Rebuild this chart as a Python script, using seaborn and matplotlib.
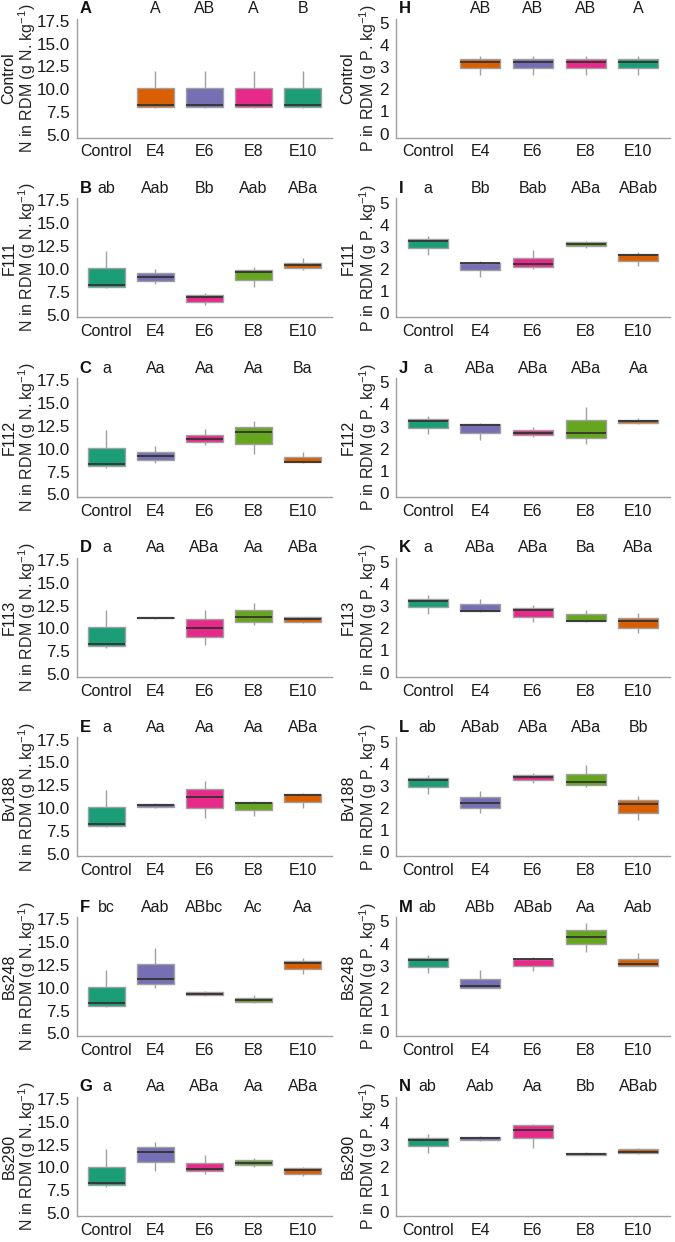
import numpy as np
import pandas as pd
import matplotlib
matplotlib.use("Agg")
import matplotlib.pyplot as plt
import seaborn as sns

# groups on the x axis and strains on the rows
groups = ["Control", "E4", "E6", "E8", "E10"]
rows = ["Control", "F111", "F112", "F113", "Bv188", "Bs248", "Bs290"]

# each box as [min, q1, median, q3, max]
ctrl_n = [7.9, 8.05, 8.3, 10.1, 12.0]
ctrl_p = [2.65, 2.95, 3.25, 3.35, 3.5]

n_A = [None, ctrl_n, ctrl_n, ctrl_n, ctrl_n]
n_B = [ctrl_n, [8.35, 8.7, 9.1, 9.6, 10.0], [6.05, 6.4, 6.9, 7.1, 7.4],
       [8.0, 8.8, 9.7, 9.9, 10.2], [9.85, 10.1, 10.4, 10.7, 11.15]]
n_C = [ctrl_n, [8.4, 8.8, 9.2, 9.65, 10.25], [10.45, 10.75, 11.1, 11.55, 12.15],
       [9.4, 10.55, 11.85, 12.4, 13.05], [8.45, 8.5, 8.55, 9.05, 9.6]]
n_D = [ctrl_n, [11.05, 11.1, 11.15, 11.2, 11.25], [8.2, 9.05, 10.05, 11.0, 12.0],
       [10.35, 10.75, 11.3, 12.0, 12.75], [10.55, 10.75, 11.0, 11.2, 11.3]]
n_E = [ctrl_n, [10.0, 10.1, 10.35, 10.45, 10.55], [8.95, 10.05, 11.2, 12.05, 12.95],
       [9.15, 9.8, 10.6, 10.65, 10.8], [10.0, 10.65, 11.45, 11.5, 11.65]]
n_F = [ctrl_n, [10.0, 10.45, 11.0, 12.65, 14.35], [9.05, 9.25, 9.35, 9.55, 9.7],
       [8.3, 8.45, 8.7, 8.9, 9.2], [11.55, 12.1, 12.7, 12.9, 13.3]]
n_G = [ctrl_n, [9.6, 10.6, 11.7, 12.2, 12.8], [9.3, 9.6, 9.8, 10.5, 11.4],
       [10.0, 10.3, 10.5, 10.8, 11.0], [9.1, 9.3, 9.7, 9.9, 10.0]]

p_H = [None, ctrl_p, ctrl_p, ctrl_p, ctrl_p]
p_I = [ctrl_p, [1.64, 1.94, 2.27, 2.29, 2.35], [2.02, 2.1, 2.22, 2.5, 2.86],
       [2.97, 3.04, 3.13, 3.2, 3.27], [2.14, 2.37, 2.63, 2.68, 2.75]]
p_J = [ctrl_p, [2.37, 2.72, 3.09, 3.1, 3.17], [2.52, 2.6, 2.72, 2.83, 2.98],
       [2.22, 2.48, 2.72, 3.29, 3.9], [3.1, 3.17, 3.24, 3.29, 3.39]]
p_K = [ctrl_p, [2.75, 2.78, 2.79, 3.09, 3.32], [2.29, 2.52, 2.83, 2.9, 3.06],
       [2.29, 2.32, 2.34, 2.63, 2.83], [1.8, 2.03, 2.32, 2.48, 2.68]]
p_L = [ctrl_p, [1.76, 1.99, 2.25, 2.49, 2.78], [3.13, 3.26, 3.41, 3.49, 3.59],
       [2.94, 3.03, 3.18, 3.52, 3.93], [1.45, 1.8, 2.19, 2.37, 2.55]]
p_M = [ctrl_p, [1.98, 2.01, 2.06, 2.41, 2.79], [2.74, 3.0, 3.3, 3.31, 3.4],
       [3.61, 3.96, 4.3, 4.6, 4.95], [2.97, 3.0, 3.08, 3.28, 3.58]]
p_N = [ctrl_p, [3.2, 3.25, 3.33, 3.38, 3.43], [2.9, 3.35, 3.7, 3.9, 3.95],
       [2.55, 2.57, 2.6, 2.64, 2.68], [2.6, 2.65, 2.72, 2.83, 2.87]]

# significance letters
lab_A = ["", "A", "AB", "A", "B"]
lab_B = ["ab", "Aab", "Bb", "Aab", "ABa"]
lab_C = ["a", "Aa", "Aa", "Aa", "Ba"]
lab_D = ["a", "Aa", "ABa", "Aa", "ABa"]
lab_E = ["a", "Aa", "Aa", "Aa", "ABa"]
lab_F = ["bc", "Aab", "ABbc", "Ac", "Aa"]
lab_G = ["a", "Aa", "ABa", "Aa", "ABa"]
lab_H = ["", "AB", "AB", "AB", "A"]
lab_I = ["a", "Bb", "Bab", "ABa", "ABab"]
lab_J = ["a", "ABa", "ABa", "ABa", "Aa"]
lab_K = ["a", "ABa", "ABa", "Ba", "ABa"]
lab_L = ["ab", "ABab", "ABa", "ABa", "Bb"]
lab_M = ["ab", "ABb", "ABab", "Aa", "Aab"]
lab_N = ["ab", "Aab", "Aa", "Bb", "ABab"]

n_panels = [n_A, n_B, n_C, n_D, n_E, n_F, n_G]
p_panels = [p_H, p_I, p_J, p_K, p_L, p_M, p_N]
n_labels = [lab_A, lab_B, lab_C, lab_D, lab_E, lab_F, lab_G]
p_labels = [lab_H, lab_I, lab_J, lab_K, lab_L, lab_M, lab_N]
n_tags = list("ABCDEFG")
p_tags = list("HIJKLMN")

teal, orange, purple, pink, lime = "#1B9E77", "#D95F02", "#7570B3", "#E7298A", "#66A61E"
pal_first = {"Control": teal, "E4": orange, "E6": purple, "E8": pink, "E10": teal}
pal_rest = {"Control": teal, "E4": purple, "E6": pink, "E8": lime, "E10": orange}

sns.set_style("white")
plt.rcParams["font.family"] = ["Liberation Sans", "DejaVu Sans"]
plt.rcParams["mathtext.fontset"] = "custom"
plt.rcParams["mathtext.rm"] = "Liberation Sans"
plt.rcParams["mathtext.default"] = "regular"

fig = plt.figure(figsize=(6.75, 12.42), dpi=100)
W, H = 675, 1242
fs = 11.5
axcol = "#a0a0a0"


def to_frame(panel):
    recs = []
    for g, vals in zip(groups, panel):
        if vals is None:
            continue
        for v in vals:
            recs.append({"group": g, "value": v})
    return pd.DataFrame(recs)


def draw(ax, panel, labels, tag, palette, ylim, yticks, yticklabels, ylabel, labx):
    df = to_frame(panel)
    sns.boxplot(data=df, x="group", y="value", hue="group", order=groups,
                hue_order=groups, palette=palette, legend=False, ax=ax,
                whis=(0, 100), width=0.76, saturation=1, linecolor=axcol,
                linewidth=1.0, medianprops={"color": "#333333", "linewidth": 1.3},
                showfliers=False, showcaps=False)
    ax.set_xlim(-0.6, 4.6)
    ax.set_ylim(*ylim)
    ax.set_yticks(yticks)
    ax.set_yticklabels(yticklabels)
    ax.set_xlabel("")
    ax.set_ylabel(ylabel, fontsize=fs)
    ax.yaxis.set_label_coords(labx, 0.5)
    for s in ["top", "right"]:
        ax.spines[s].set_visible(False)
    for s in ["left", "bottom"]:
        ax.spines[s].set_color(axcol)
        ax.spines[s].set_linewidth(1.0)
    ax.tick_params(axis="both", labelsize=fs, colors=axcol, labelcolor="#1a1a1a",
                   length=3, width=0.8, pad=2)
    ax.tick_params(axis="y", labelsize=fs + 0.8)
    for i, t in enumerate(labels):
        ax.annotate(t, xy=(i, 1), xycoords=("data", "axes fraction"),
                    xytext=(0, 7), textcoords="offset points",
                    ha="center", va="center", fontsize=fs, color="#1a1a1a")
    ax.annotate(tag, xy=(0, 1), xycoords="axes fraction", xytext=(2, 7),
                textcoords="offset points", ha="left", va="center",
                fontsize=fs + 0.5, fontweight="bold", color="#111111")


for r in range(7):
    yb = 137.5 + 179.7 * r
    bottom = 1 - yb / H
    h = 119 / H
    yc = 1 - (yb - 59.5) / H
    axn = fig.add_axes([77 / W, bottom, 255 / W, h])
    draw(axn, n_panels[r], n_labels[r], n_tags[r],
         pal_first if r == 0 else pal_rest,
         (4.72, 17.75), [5, 7.5, 10, 12.5, 15, 17.5],
         ["5.0", "7.5", "10.0", "12.5", "15.0", "17.5"],
         "N in RDM (g N. kg$^{-1}$)", (38 - 77) / 255)
    fig.text(9 / W, yc, rows[r], rotation=90, ha="center", va="center",
             fontsize=fs, color="#1a1a1a")
    axp = fig.add_axes([396 / W, bottom, 274 / W, h])
    draw(axp, p_panels[r], p_labels[r], p_tags[r],
         pal_first if r == 0 else pal_rest,
         (-0.18, 5.2), [0, 1, 2, 3, 4, 5],
         ["0", "1", "2", "3", "4", "5"],
         "P in RDM (g P. kg$^{-1}$)", (379 - 396) / 274)
    fig.text(348 / W, yc, rows[r], rotation=90, ha="center", va="center",
             fontsize=fs, color="#1a1a1a")

fig.savefig("out.png", dpi=100)
